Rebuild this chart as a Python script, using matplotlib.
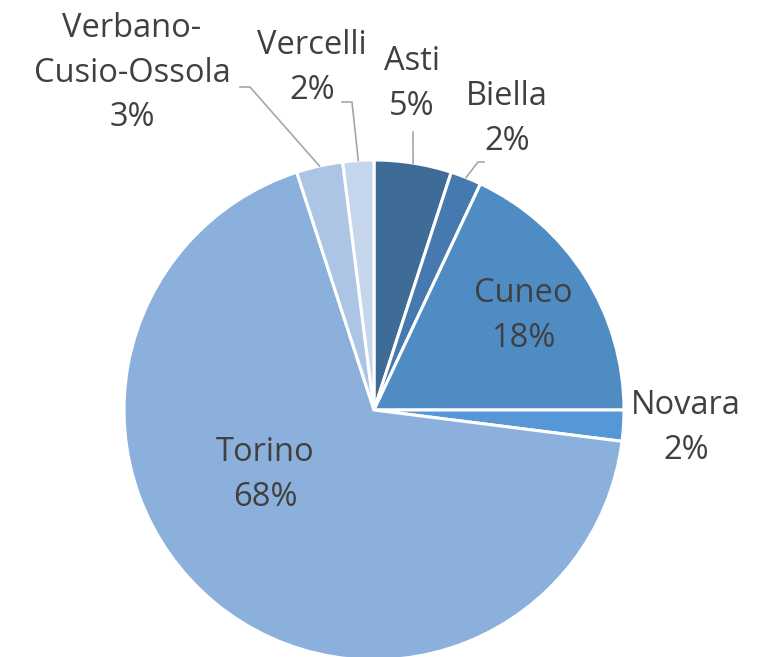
import numpy as np
import matplotlib.pyplot as plt

provinces = ['Asti', 'Biella', 'Cuneo', 'Novara', 'Torino', 'Verbano-\nCusio-Ossola', 'Vercelli']
shares = [5, 2, 18, 2, 68, 3, 2]
colors = ['#3F6C97', '#4579B0', '#4F8CC4', '#5697D7', '#8CB0DC', '#ADC5E5', '#C5D6EC']

# label centre (pixels, from top-left) and leader elbow for outside labels
label_pos = {
    'Asti': (412, 84, None),
    'Biella': (507, 119, (478, 162)),
    'Cuneo': (523, 316, None),
    'Novara': (686, 428, None),
    'Torino': (265, 475, None),
    'Verbano-\nCusio-Ossola': (132, 73, (250, 87)),
    'Vercelli': (312, 68, (352, 102)),
}
leader_start = {
    'Asti': (413, 132),
    'Biella': (484, 162),
    'Verbano-\nCusio-Ossola': (240, 87),
    'Vercelli': (342, 102),
}

W, H = 769, 657
cx, cy, r = 374, 410, 250

plt.rcParams['font.family'] = ['Open Sans', 'DejaVu Sans']
fig = plt.figure(figsize=(W / 100, H / 100), dpi=100)
ax = fig.add_axes([0, 0, 1, 1])

wedges, _ = ax.pie(shares, colors=colors, startangle=90, counterclock=False,
                   center=(cx, H - cy), radius=r, frame=True,
                   wedgeprops=dict(edgecolor='white', linewidth=2.2))
ax.set_xlim(0, W)
ax.set_ylim(0, H)
ax.set_aspect('equal')
ax.axis('off')

for w, name, s in zip(wedges, provinces, shares):
    lx, ly, elbow = label_pos[name]
    ax.text(lx, H - ly, f'{name}\n{s}%', ha='center', va='center',
            fontsize=23.5, color='#404040', linespacing=1.45)
    if name in leader_start:
        mid = np.deg2rad((w.theta1 + w.theta2) / 2)
        ex = cx + r * np.cos(mid)
        ey = (H - cy) + r * np.sin(mid)
        sx, sy = leader_start[name]
        pts = [(sx, H - sy)]
        if elbow is not None:
            pts.append((elbow[0], H - elbow[1]))
        pts.append((ex, ey))
        xs, ys = zip(*pts)
        ax.plot(xs, ys, color='#A6A6A6', lw=1.2)

fig.savefig('out.png', dpi=100, facecolor='white')
